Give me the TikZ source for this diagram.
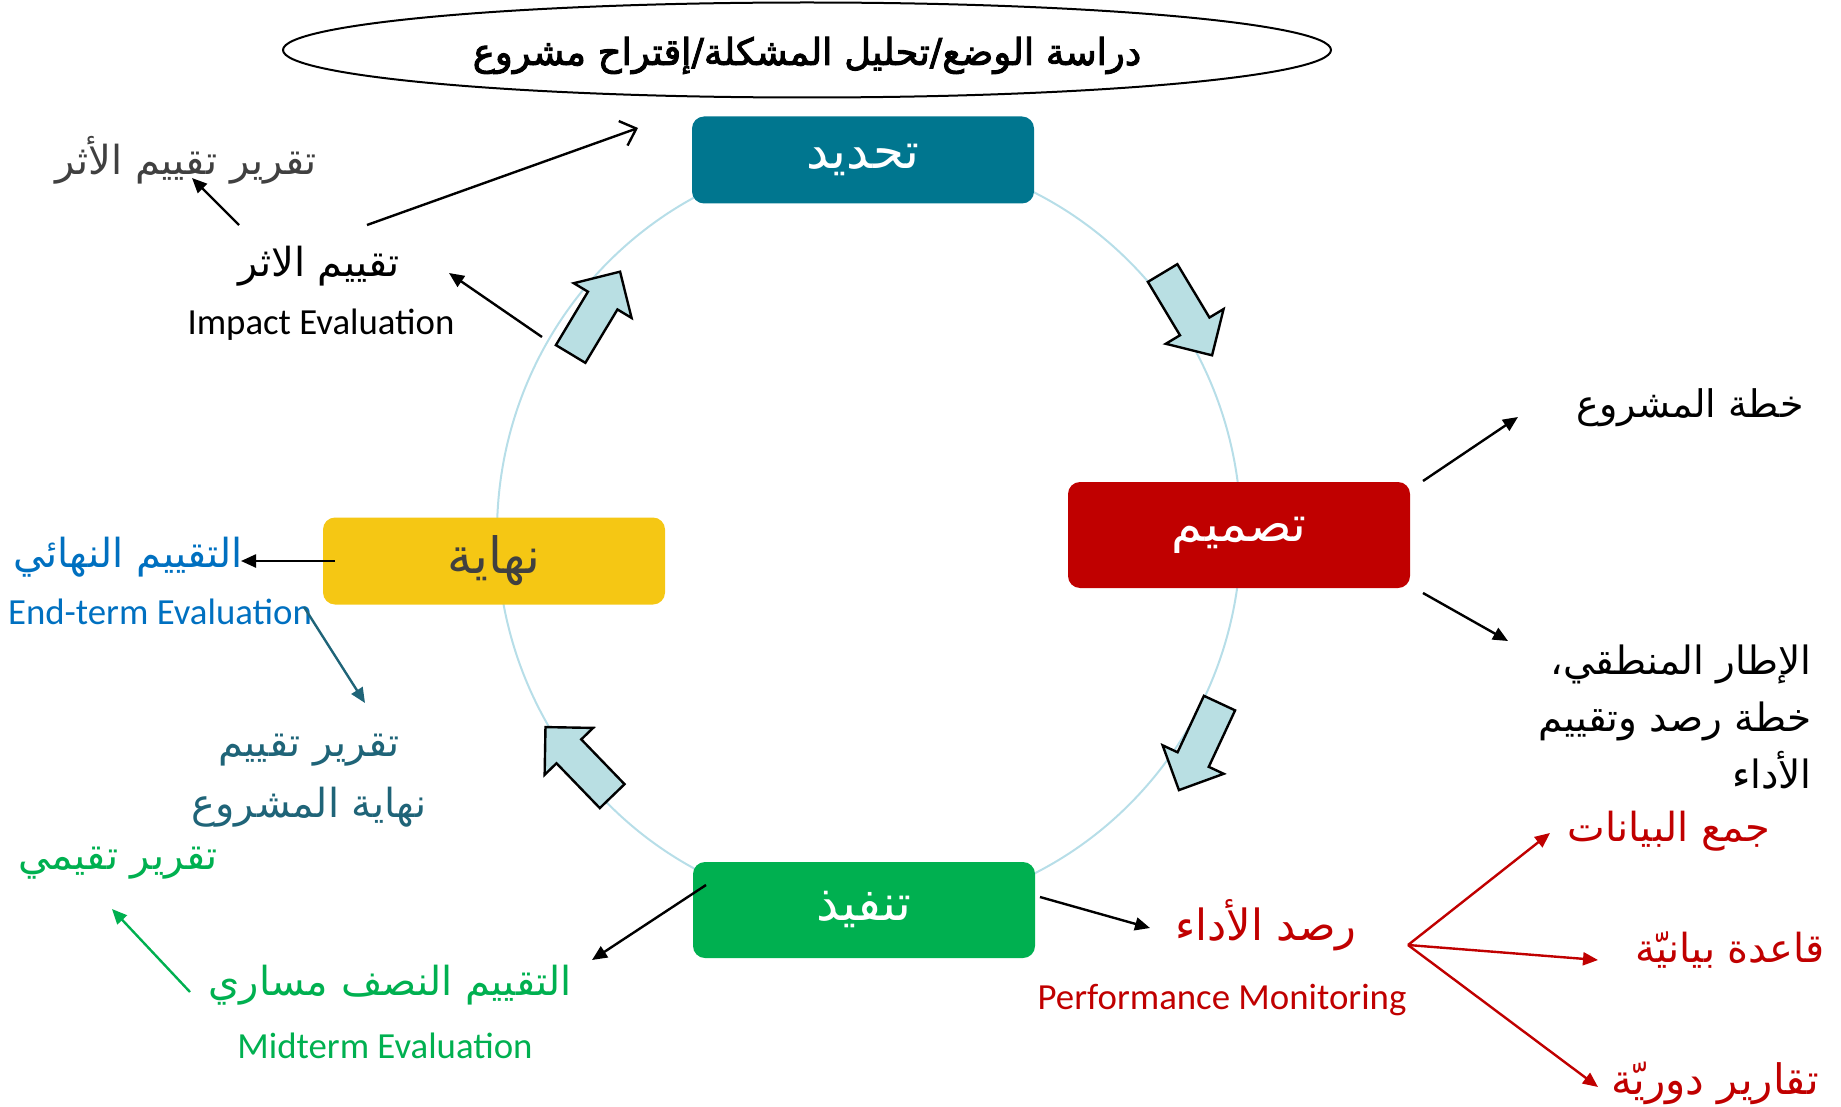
\documentclass[tikz,border=0pt]{standalone}
\usepackage{fontspec}
\TeXXeTstate=1
\newfontfamily\arabicfont[Script=Arabic]{DejaVu Sans}
\newfontfamily\arabicbold[Script=Arabic,FakeBold=2.5]{DejaVu Sans}
\newfontfamily\enfont{Carlito}
\usetikzlibrary{shapes.geometric,shapes.arrows,arrows.meta}
\definecolor{tealbox}{RGB}{0,118,143}
\definecolor{redbox}{RGB}{192,0,0}
\definecolor{greenbox}{RGB}{0,176,80}
\definecolor{yellowbox}{RGB}{245,199,20}
\definecolor{ringblue}{RGB}{183,222,232}
\definecolor{flowblue}{RGB}{185,223,227}
\definecolor{darkgrey}{RGB}{64,64,64}
\definecolor{endblue}{RGB}{0,112,192}
\definecolor{reportteal}{RGB}{31,100,120}
\newcommand{\artext}[1]{\beginR #1\endR}

\begin{document}
\begin{tikzpicture}[x=0.5pt,y=-0.5pt,
  stage/.style={rounded corners=6pt, minimum width=171pt, inner sep=0pt, text=white, font=\arabicfont\fontsize{25}{30}\selectfont},
  flow/.style={single arrow, draw=black, line width=1.2pt, fill=flowblue, minimum height=48pt, minimum width=32.5pt, single arrow head extend=8.25pt, inner xsep=0pt, inner ysep=8pt},
  artxt/.style={inner sep=0pt, font=\arabicfont\fontsize{20}{28.5}\selectfont},
  entxt/.style={inner sep=0pt, font=\enfont\fontsize{18.4}{22}\selectfont},
  arr/.style={-{Triangle[length=7.5pt,width=6.5pt]}, line width=1.2pt}]
\useasboundingbox (0,0) rectangle (1841,1107);

% title
\node[draw, ellipse, line width=1pt, minimum width=524pt, minimum height=47.5pt, text height=18pt, text depth=3pt, font=\arabicbold\fontsize{18.5}{22}\selectfont] (title) at (807,50) {\artext{دراسة الوضع/تحليل المشكلة/إقتراح مشروع}};

% cycle
\draw[ringblue, line width=1pt] (869,533) ellipse [x radius=186pt, y radius=190pt];
\node[stage, fill=tealbox, minimum height=43.5pt] (tahdid) at (863,160) {\artext{تحديد}};
\node[stage, fill=redbox, minimum height=53pt] (tasmim) at (1239,535) {\artext{تصميم}};
\node[stage, fill=greenbox, minimum height=48pt] (tanfidh) at (864,910) {\artext{تنفيذ}};
\node[stage, fill=yellowbox, minimum height=43.5pt, text=darkgrey] (nihaya) at (494,561) {\artext{نهاية}};

\node[flow, rotate=-59, anchor=tail] (flowa) at (1162,272) {};
\node[flow, rotate=-115, anchor=tail] (flowb) at (1220,702) {};
\node[flow, rotate=134, anchor=tail] (flowc) at (613,797) {};
\node[flow, rotate=59, anchor=tail] (flowd) at (570,355) {};

% impact evaluation
\node[artxt, text=darkgrey] (impreport) at (186,160) {\artext{تقرير تقييم الأثر}};
\node[artxt] (impact) at (319,266) {\artext{تقييم الاثر}};
\node[entxt] (impacten) at (321,325) {Impact Evaluation};
\coordinate (impA) at (239,225);
\coordinate (impB) at (367,225);
\coordinate (impC) at (542,337);
\draw[arr] (impA) -- (192,178);
\draw[-{Straight Barb[length=7pt,width=13pt]}, line width=1.2pt] (impB) -- (638,128);
\draw[arr] (impC) -- (449,273);

% design outputs
\node[artxt, font=\arabicfont\fontsize{19}{28.5}\selectfont] (plan) at (1690,408) {\artext{خطة المشروع}};
\node[artxt, anchor=east, align=right, font=\arabicfont\fontsize{19.5}{28.5}\selectfont] (logframe) at (1812,717) {\artext{الإطار المنطقي،}\\\artext{خطة رصد وتقييم}\\\artext{الأداء}};
\draw[arr] (1423,481) -- (1518,417);
\draw[arr] (1423,593) -- (1508,641);

% end-term evaluation
\node[artxt, text=endblue] (final) at (128,557) {\artext{التقييم النهائي}};
\node[entxt, text=endblue] (finalen) at (160,612) {End-term Evaluation};
\node[artxt, text=reportteal, align=center, font=\arabicfont\fontsize{20}{30.5}\selectfont] (finreport) at (309,781) {\artext{تقرير تقييم}\\\artext{نهاية المشروع}};
\draw[arr] (335,561) -- (241,561);
\draw[arr, reportteal] (304,607) -- (365,703);

% midterm evaluation
\node[artxt, text=greenbox] (midreport) at (118,863) {\artext{تقرير تقيمي}};
\node[artxt, text=greenbox] (midterm) at (390,985) {\artext{التقييم النصف مساري}};
\node[entxt, text=greenbox] (midtermen) at (385,1046) {Midterm Evaluation};
\draw[arr, greenbox] (190,992) -- (112,909);
\draw[arr] (706,885) -- (592,960);

% monitoring
\node[artxt, text=redbox, font=\arabicfont\fontsize{21.5}{28.5}\selectfont] (monitor) at (1266,925) {\artext{رصد الأداء}};
\node[entxt, text=redbox] (monitoren) at (1222,1000) {Performance Monitoring};
\node[artxt, text=redbox] (collect) at (1669,831) {\artext{جمع البيانات}};
\node[artxt, text=redbox] (database) at (1730,950) {\artext{قاعدة بيانيّة}};
\node[artxt, text=redbox, font=\arabicfont\fontsize{21}{28.5}\selectfont] (periodic) at (1715,1083) {\artext{تقارير دوريّة}};
\coordinate (hub) at (1408,945);
\draw[arr] (1040,897) -- (1150,928);
\draw[arr, redbox] (hub) -- (1550,833);
\draw[arr, redbox] (hub) -- (1598,960);
\draw[arr, redbox] (hub) -- (1598,1087);
\end{tikzpicture}
\end{document}
